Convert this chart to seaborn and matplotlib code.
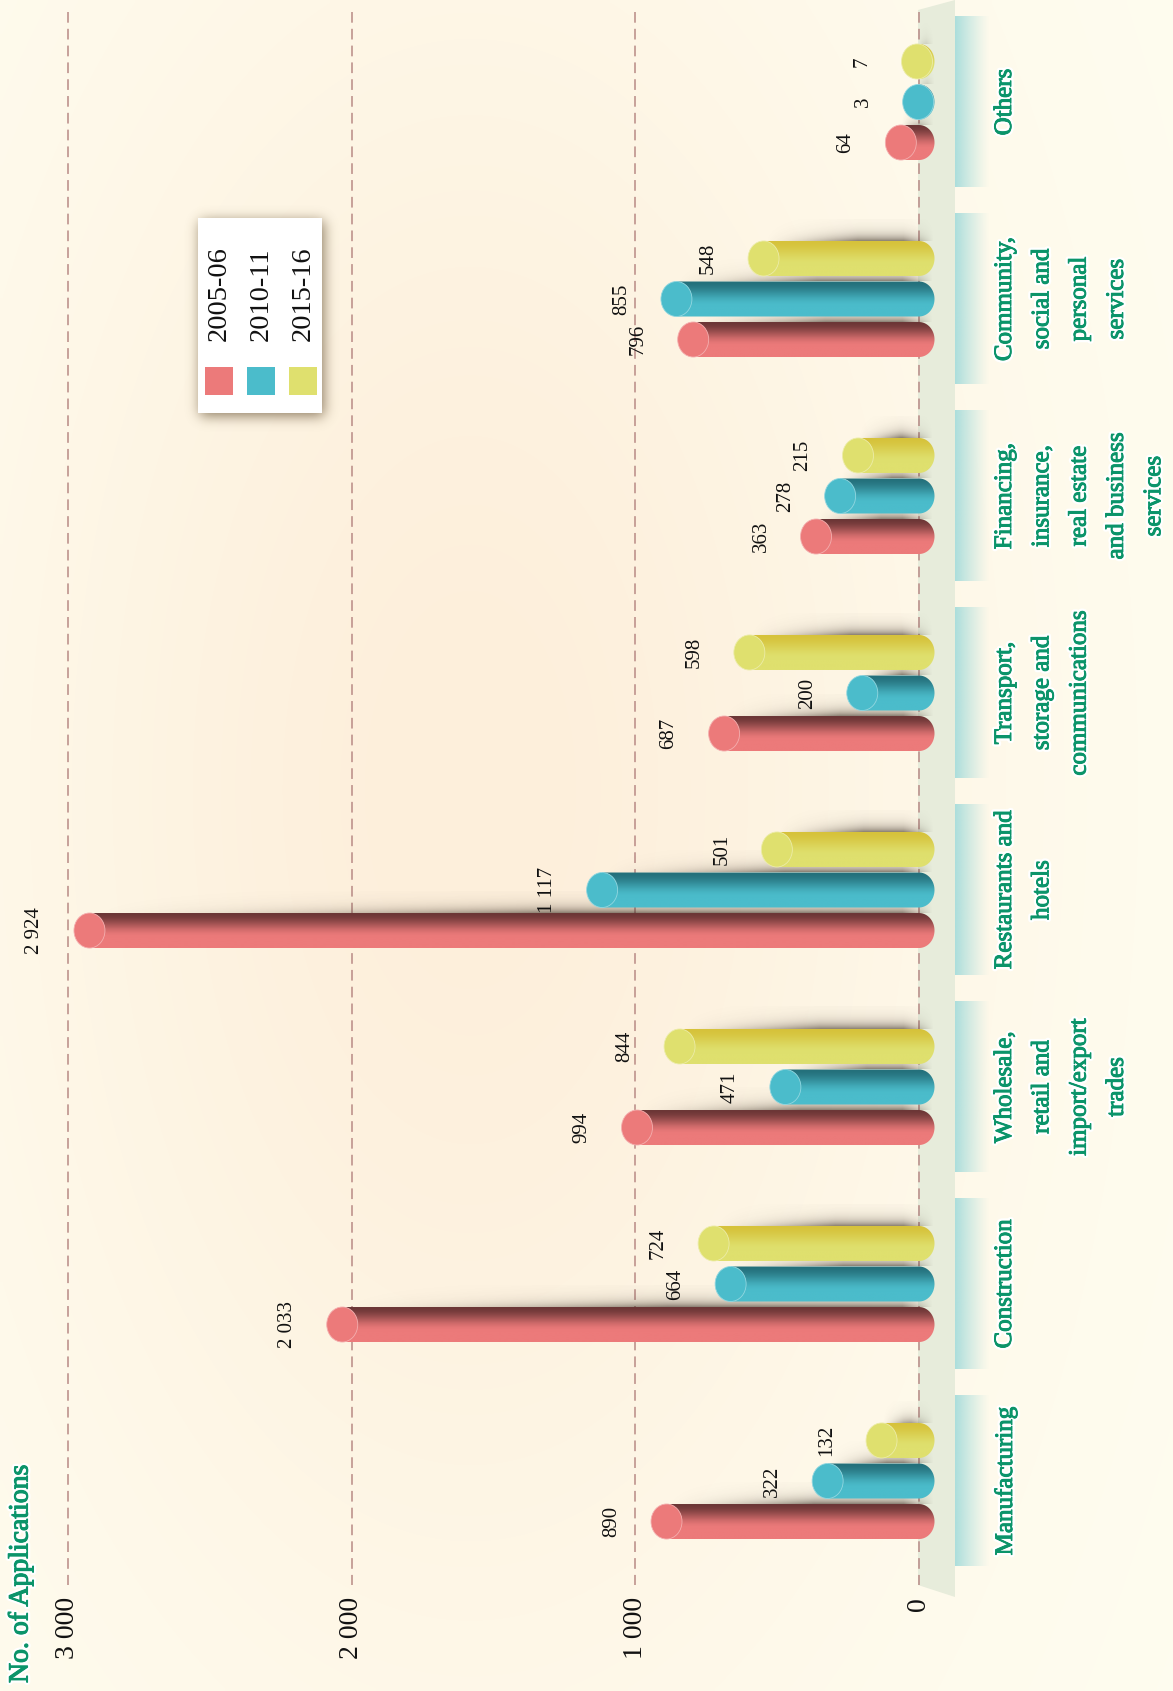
import numpy as np
import pandas as pd
import matplotlib
matplotlib.use("Agg")
import matplotlib.pyplot as plt
import matplotlib.patheffects as pe
from matplotlib.patches import Ellipse, Polygon, Rectangle
from matplotlib.colors import to_rgb
import seaborn as sns

# data
categories = ["Manufacturing", "Construction", "Wholesale", "Restaurants", "Transport",
              "Financing", "Community", "Others"]
cat_labels = ["Manufacturing",
              "Construction",
              "Wholesale,\nretail and\nimport/export\ntrades",
              "Restaurants and\nhotels",
              "Transport,\nstorage and\ncommunications",
              "Financing,\ninsurance,\nreal estate\nand business\nservices",
              "Community,\nsocial and\npersonal\nservices",
              "Others"]
years = ["2005-06", "2010-11", "2015-16"]
apps_2005 = [890, 2033, 994, 2924, 687, 363, 796, 64]
apps_2010 = [322, 664, 471, 1117, 200, 278, 855, 3]
apps_2015 = [132, 724, 844, 501, 598, 215, 548, 7]
value_ticks = [0, 1000, 2000, 3000]
tick_labels = ["0", "1 000", "2 000", "3 000"]
y_title = "No. of Applications"

colors = ["#ec7a7a", "#4bbccb", "#dfe06e"]
dark_colors = ["#6a3535", "#24707b", "#d6c23a"]
green = "#0b946a"

plt.rcParams["font.family"] = ["Liberation Serif", "DejaVu Serif"]

# canvas geometry (pixels)
W, H = 1173, 1691
X0_PX, PX_PER = 919, 0.2837      # zero line position, px per application
Y0_PX, CAT_PX = 1481, 197        # first category centre, px per category


def px_x(px):
    return (X0_PX - px) / PX_PER


def px_y(py):
    return (Y0_PX - py) / CAT_PX


df = pd.DataFrame({
    "category": categories * 3,
    "year": np.repeat(years, len(categories)),
    "applications": apps_2005 + apps_2010 + apps_2015,
})

fig = plt.figure(figsize=(W / 100, H / 100), dpi=100)

# background layer: cream with a soft peach glow, floor and label bands
ax_bg = fig.add_axes([0, 0, 1, 1], zorder=0)
gx = np.linspace(0, W, 240)
gy = np.linspace(0, H, 340)
GX, GY = np.meshgrid(gx, gy)
glow = np.exp(-0.5 * (((GX - 470) / 340) ** 2 + ((GY - 790) / 640) ** 2))
base_c = np.array([255, 253, 240]) / 255
glow_c = np.array([253, 239, 219]) / 255
bg = base_c * (1 - glow[..., None]) + glow_c * glow[..., None]
ax_bg.imshow(bg, extent=(0, W, H, 0), aspect="auto", interpolation="bilinear")
ax_bg.add_patch(Polygon([(918, 10), (955, 0), (955, 1597), (918, 1585)],
                        closed=True, fc="#e7ecdb", ec="none"))
band = np.zeros((1, 40, 4))
band[..., :3] = np.array([172, 222, 220]) / 255
band[..., 3] = np.linspace(1, 0, 40) ** 1.2
for i in range(len(categories)):
    yc = Y0_PX - CAT_PX * i
    ax_bg.imshow(band, extent=(955, 990, yc + 85.5, yc - 85.5), aspect="auto",
                 interpolation="bilinear")
ax_bg.set_xlim(0, W)
ax_bg.set_ylim(H, 0)
ax_bg.axis("off")

# main chart
ax = fig.add_axes([0, 0, 1, 1], zorder=1)
sns.barplot(data=df, x="applications", y="category", hue="year", order=categories,
            hue_order=years, palette=colors, saturation=1, orient="h",
            width=0.617, gap=0.136, errorbar=None, legend=False, ax=ax)
bars = list(ax.patches)

# dashed gridlines
for v in value_ticks:
    ax.plot([v, v], [px_y(12), px_y(1585)], color="#b88a85", lw=1.1,
            linestyle=(0, (7, 4)), zorder=1)

cap_a = 15.5 / PX_PER
shadow_rgb = np.array([55, 42, 32]) / 255


def gradient(dark, base, n=64):
    t = np.linspace(0, 1, n)
    s = np.clip(t / 0.7, 0, 1)
    s = s * s * (3 - 2 * s)
    d, b = np.array(to_rgb(dark)), np.array(to_rgb(base))
    return (d[None, :] * (1 - s[:, None]) + b[None, :] * s[:, None])[:, None, :]


for p in bars:
    v = p.get_width()
    yb = p.get_y()
    h = p.get_height()
    yt = yb + h
    yc = yb + h / 2
    k = int(round((yc - round(yc)) / 0.2056)) + 1
    p.set_visible(False)

    # soft shadow cast above the cylinder
    L = max(v * PX_PER, 2)
    ncol = int(L) + 14
    nrow = 22
    c = np.arange(ncol)
    g = np.clip(c / (0.55 * L + 8), 0, 1) ** 1.4 * np.clip((ncol - c) / 30, 0, 1)
    dy = nrow - 0.5 - np.arange(nrow)
    f = np.exp(-dy / 6.0)
    sh = np.zeros((nrow, ncol, 4))
    sh[..., :3] = shadow_rgb
    sh[..., 3] = 0.6 * f[:, None] * g[None, :]
    ax.imshow(sh, extent=(v, v - ncol / PX_PER, yt, yt + nrow / CAT_PX),
              origin="upper", aspect="auto", interpolation="bilinear", zorder=2)

    # cylinder body with rounded far end
    t = np.linspace(np.pi / 2, -np.pi / 2, 40)
    verts = [(v, yt)] + list(zip(-cap_a * np.cos(t), yc + h / 2 * np.sin(t))) + [(v, yb)]
    body = Polygon(verts, closed=True, transform=ax.transData)
    im = ax.imshow(gradient(dark_colors[k], colors[k]), extent=(v, -cap_a, yb, yt),
                   origin="upper", aspect="auto", interpolation="bilinear", zorder=3)
    im.set_clip_path(body)

    # front cap
    light = np.array(to_rgb(colors[k])) * 0.6 + 0.4
    ax.add_patch(Ellipse((v, yc), 2 * cap_a, h, fc=colors[k], ec=light, lw=0.6, zorder=4))

    ax.annotate(f"{int(v):,}".replace(",", " "), xy=(v, yc), xytext=(-55, 0),
                textcoords="offset pixels", rotation=90, ha="center", va="center",
                fontsize=15, color="#111111", zorder=5)

# value axis tick labels
for v, lab in zip(value_ticks, tick_labels):
    ax.text(v, 1 - 1597 / H, lab, transform=ax.get_xaxis_transform(), rotation=90,
            rotation_mode="anchor", ha="right", va="center", fontsize=20, color="#111111")

# category labels
stroke = [pe.withStroke(linewidth=4, foreground="white"),
          pe.withStroke(linewidth=0.7, foreground=green)]
for i, lab in enumerate(cat_labels):
    ax.text(994 / W, i, lab, transform=ax.get_yaxis_transform(), rotation=90,
            rotation_mode="anchor", ha="center", va="top", multialignment="center",
            linespacing=1.9, fontsize=18, color=green, path_effects=stroke)

ax.set_xlim(px_x(0), px_x(W))
ax.set_ylim(px_y(H), px_y(0))
ax.axis("off")

# overlay: legend and axis title
ax_top = fig.add_axes([0, 0, 1, 1], zorder=2)
ax_top.set_xlim(0, W)
ax_top.set_ylim(H, 0)
ax_top.axis("off")

sx0, sy0, sw, sh_ = 165, 185, 200, 270
mask = np.zeros((sh_, sw))
mask[218 - sy0 + 3:413 - sy0 + 3, 198 - sx0 + 2:322 - sx0 + 2] = 1
kern = np.exp(-0.5 * (np.arange(-20, 21) / 6.5) ** 2)
kern /= kern.sum()
blur = np.apply_along_axis(lambda r: np.convolve(r, kern, mode="same"), 1, mask)
blur = np.apply_along_axis(lambda r: np.convolve(r, kern, mode="same"), 0, blur)
shadow = np.zeros((sh_, sw, 4))
shadow[..., :3] = np.array([95, 75, 45]) / 255
shadow[..., 3] = 0.7 * blur
ax_top.imshow(shadow, extent=(sx0, sx0 + sw, sy0 + sh_, sy0), aspect="auto",
              interpolation="bilinear")
ax_top.add_patch(Rectangle((198, 218), 124, 195, fc="white", ec="none"))
for k, (yr, col_x) in enumerate(zip(years, [219, 261, 303])):
    ax_top.text(col_x, 294, yr, rotation=90, ha="center", va="center", fontsize=20.5,
                color="#111111")
    ax_top.add_patch(Rectangle((col_x - 14, 367), 28, 28, fc=colors[k], ec="none"))

title_fx = [pe.withStroke(linewidth=4, foreground="white"),
            pe.withStroke(linewidth=0.8, foreground=green)]
ax_top.text(21, 1683, y_title, rotation=90, rotation_mode="anchor", ha="left",
            va="center", fontsize=20, color=green, path_effects=title_fx)
ax_top.set_xlim(0, W)
ax_top.set_ylim(H, 0)

fig.savefig("out.png", dpi=100)
